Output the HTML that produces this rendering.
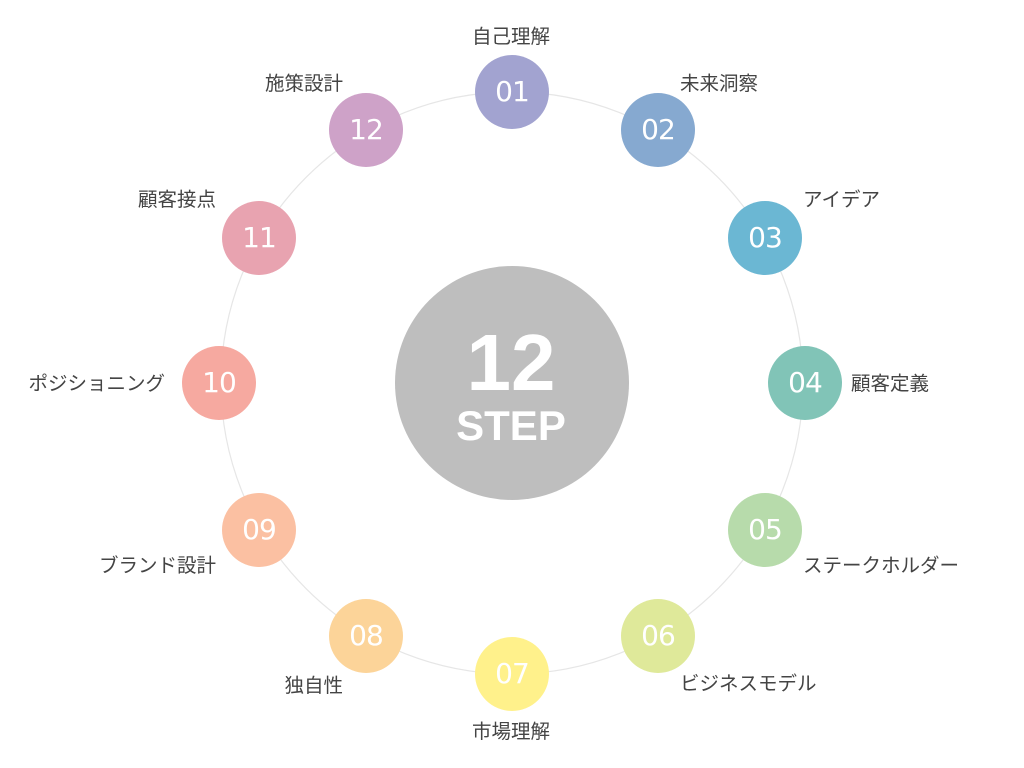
<!DOCTYPE html>
<html><head><meta charset="utf-8"><style>
html,body{margin:0;padding:0;background:#fff;}
body{width:1024px;height:768px;position:relative;overflow:hidden;font-family:"Liberation Sans","Noto Sans CJK JP",sans-serif;}
.n{position:absolute;width:74px;height:74px;border-radius:50%;color:#fff;font-size:28px;line-height:74px;text-align:center;font-family:"DejaVu Sans","Liberation Sans",sans-serif;font-weight:400;letter-spacing:-1px;}
.l{position:absolute;font-size:19.5px;color:#444;white-space:nowrap;line-height:20px;}
.r{text-align:right;}
</style></head><body>
<svg width="1024" height="768" style="position:absolute;left:0;top:0">
<circle cx="512" cy="383" r="291" fill="none" stroke="#e6e6e6" stroke-width="1.2"/>
<circle cx="512" cy="383" r="117" fill="#bebebe"/>
<text x="511" y="390" text-anchor="middle" fill="#fff" font-family="Liberation Sans, sans-serif" font-weight="bold" font-size="80">12</text>
<text x="511" y="440" text-anchor="middle" fill="#fff" font-family="Liberation Sans, sans-serif" font-weight="bold" font-size="42">STEP</text>
</svg>
<div class="n" style="left:475px;top:55px;background:#a2a3d0">01</div>
<div class="n" style="left:621px;top:93px;background:#86a9d0">02</div>
<div class="n" style="left:728px;top:201px;background:#6bb7d3">03</div>
<div class="n" style="left:768px;top:346px;background:#81c4b7">04</div>
<div class="n" style="left:728px;top:493px;background:#b7dbab">05</div>
<div class="n" style="left:621px;top:599px;background:#dfe99a">06</div>
<div class="n" style="left:475px;top:637px;background:#fff18b">07</div>
<div class="n" style="left:329px;top:599px;background:#fcd499">08</div>
<div class="n" style="left:222px;top:493px;background:#fbc0a2">09</div>
<div class="n" style="left:182px;top:346px;background:#f6a9a0">10</div>
<div class="n" style="left:222px;top:201px;background:#e8a3b0">11</div>
<div class="n" style="left:329px;top:93px;background:#cea2c8">12</div>
<div class="l" style="left:472px;top:27px">自己理解</div>
<div class="l" style="left:680px;top:74px">未来洞察</div>
<div class="l" style="left:803px;top:190px">アイデア</div>
<div class="l" style="left:851px;top:374px">顧客定義</div>
<div class="l" style="left:803px;top:556px">ステークホルダー</div>
<div class="l" style="left:680px;top:674px">ビジネスモデル</div>
<div class="l" style="left:472px;top:722px">市場理解</div>
<div class="l r" style="right:681px;top:676px">独自性</div>
<div class="l r" style="right:808px;top:556px">ブランド設計</div>
<div class="l r" style="right:859px;top:374px">ポジショニング</div>
<div class="l r" style="right:808px;top:190px">顧客接点</div>
<div class="l r" style="right:681px;top:74px">施策設計</div>
</body></html>
